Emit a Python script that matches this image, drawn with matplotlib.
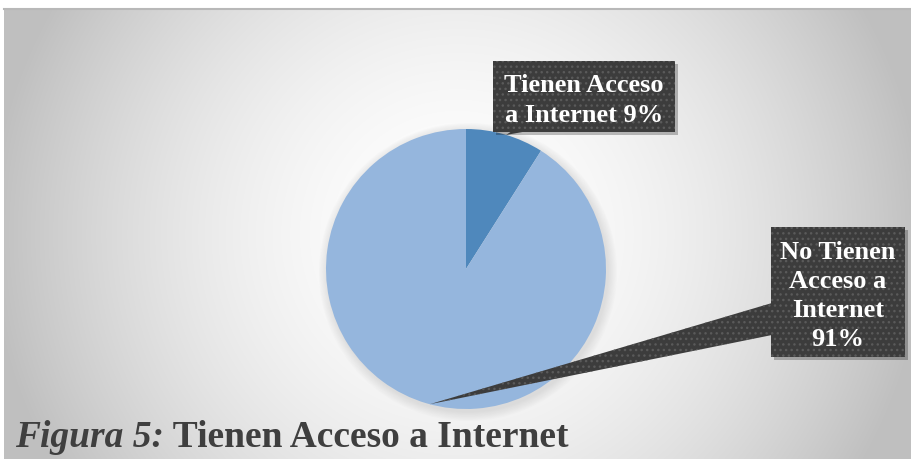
import numpy as np
import matplotlib.pyplot as plt
from matplotlib.patches import Rectangle, Polygon, Circle

# datos
categorias = ['Tienen Acceso\na Internet', 'No Tienen\nAcceso a\nInternet']
porcentajes = [9, 91]
colores = ['#4f88bc', '#95b6dd']
etiquetas = ['Tienen Acceso\na Internet 9%', 'No Tienen\nAcceso a\nInternet\n91%']

W, H = 911, 460
fig = plt.figure(figsize=(W / 100, H / 100), dpi=100)
ax = fig.add_axes([0, 0, 1, 1])
ax.set_xlim(0, W)
ax.set_ylim(0, H)
ax.axis('off')

# fondo con degradado radial
yy, xx = np.mgrid[0:H, 0:W]
d = np.sqrt(((xx - 455) / 470.0) ** 2 + ((yy - 230) / 470.0) ** 2)
val = 1 - 0.25 * np.clip(d, 0, 1) ** 1.8
img = np.dstack([val, val, val])
ax.add_patch(Rectangle((0, H), W, 10, color='white', zorder=0))
ax.imshow(img, extent=(4, W, 0, H - 10), origin='upper', zorder=0, aspect='auto')
ax.plot([4, W], [H - 10, H - 10], color='#b8b8b8', lw=1.5, zorder=1)

# sombra del pastel
cx, cy, r = 466, 190, 140
for k in range(8):
    ax.add_patch(Circle((cx + 2, cy - 3), r + 9 - k * 1.2, color='#a0a0a0',
                        alpha=0.035, lw=0, zorder=2))

ax.pie(porcentajes, colors=colores, startangle=90, counterclock=False,
       center=(cx, cy), radius=r, frame=True,
       wedgeprops=dict(linewidth=0, zorder=3))
ax.set_xlim(0, W)
ax.set_ylim(0, H)
ax.set_aspect('auto')
ax.axis('off')


def caja(x0, y0, w, h, texto):
    ax.add_patch(Rectangle((x0 + 3, y0 - 3), w, h, color='#000000', alpha=0.25,
                           lw=0, zorder=4))
    ax.add_patch(Rectangle((x0, y0), w, h, facecolor='#3c3c3c', edgecolor='#5a5a5a',
                           hatch='...', lw=0, zorder=5))
    ax.text(x0 + w / 2, y0 + h / 2 - 3, texto, ha='center', va='center',
            color='white', fontsize=19, fontweight='bold', family='Liberation Serif',
            linespacing=1.35, zorder=6)


# flecha de la etiqueta 91%
ang = np.deg2rad(-105)
tip = (cx + r * np.cos(ang), cy + r * np.sin(ang))
ax.add_patch(Polygon([tip, (772, 460 - 304), (772, 460 - 336)], closed=True,
                     facecolor='#3c3c3c', edgecolor='#5a5a5a', hatch='...', lw=0, zorder=5))
# flecha pequeña de la etiqueta 9%
ax.add_patch(Polygon([(506, 460 - 136), (512, 460 - 132), (528, 460 - 132)], closed=True,
                     facecolor='#3c3c3c', lw=0, zorder=5))

caja(493, 460 - 133, 182, 71, etiquetas[0])
caja(771, 460 - 358, 134, 130, etiquetas[1])

# titulo
t1 = ax.text(15, 460 - 455, 'Figura 5:', fontsize=27, fontstyle='italic',
             fontweight='bold', family='Liberation Serif', color='#3f3f3f',
             ha='left', va='bottom', zorder=7)
ax.annotate(' Tienen Acceso a Internet', xy=(1, 0), xycoords=t1, fontsize=27,
            fontweight='bold', family='Liberation Serif', color='#3f3f3f',
            ha='left', va='bottom', zorder=7)

fig.savefig('out.png', dpi=100)
